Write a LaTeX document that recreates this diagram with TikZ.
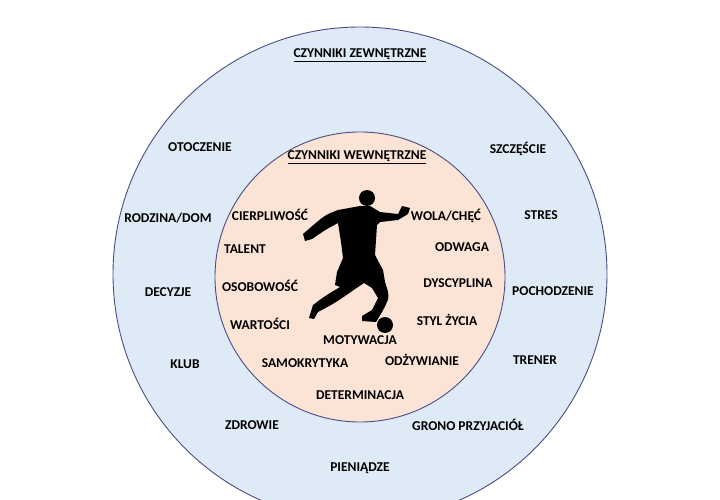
\documentclass[tikz,border=0pt]{standalone}
\usepackage{fontspec}
\setmainfont{Carlito}
\begin{document}
\begin{tikzpicture}[x=1pt,y=-1pt,
  lab/.style={font=\bfseries\fontsize{13.5}{15}\selectfont, inner sep=1pt},
  ring/.style={draw=black!45!blue!40!gray, line width=0.9pt}]
\definecolor{outerc}{HTML}{DEEAF6}
\definecolor{innerc}{HTML}{FBE3D6}
\useasboundingbox (0,0) rectangle (720,500);
\fill[white] (0,0) rectangle (720,500);
\begin{scope}
\clip (0,0) rectangle (720,500);
\node[circle, ring, fill=outerc, minimum size=494pt, inner sep=0] (outer) at (360,274) {};
\end{scope}
\node[circle, ring, fill=innerc, minimum size=290pt, inner sep=0] (inner) at (360,277) {};
% player
\fill[black] (367,198) circle (8);
\fill[black] (338,210) .. controls (325,215) .. (310,228) -- (303,234) -- (305,241) -- (312,239)
  .. controls (325,230) .. (338,223) -- (341,242) -- (343,258) -- (337,272) -- (335,285) -- (340,287)
  .. controls (325,296) .. (313,305) -- (309,318) -- (314,319) -- (318,312)
  .. controls (335,303) .. (358,287) -- (364,283) -- (372,288) -- (378,298) -- (372,310) -- (362,316)
  -- (362,321) -- (376,322) -- (382,312) .. controls (390,297) .. (385,282) -- (383,270) -- (375,255)
  -- (377,225) -- (380,222) -- (398,220) -- (408,214) -- (410,208) -- (402,206) -- (398,214)
  -- (380,212) -- (370,206) -- (360,206) -- cycle;
\fill[black] (385,325) circle (8);
% texts
\node[lab] (ext) at (360,55) {\underline{CZYNNIKI ZEWNĘTRZNE}};
\node[lab] (int) at (357,157) {\underline{CZYNNIKI WEWNĘTRZNE}};
\node[lab] (a1) at (200,147) {OTOCZENIE};
\node[lab] (a2) at (518,149) {SZCZĘŚCIE};
\node[lab] (a3) at (168,218) {RODZINA/DOM};
\node[lab] (a4) at (270,215) {CIERPLIWOŚĆ};
\node[lab] (a5) at (446,216) {WOLA/CHĘĆ};
\node[lab] (a6) at (541,215) {STRES};
\node[lab] (a7) at (245,249) {TALENT};
\node[lab] (a8) at (462,247) {ODWAGA};
\node[lab] (a9) at (168,292) {DECYZJE};
\node[lab] (a10) at (260,286) {OSOBOWOŚĆ};
\node[lab] (a11) at (458,283) {DYSCYPLINA};
\node[lab] (a12) at (553,291) {POCHODZENIE};
\node[lab] (a13) at (260,324) {WARTOŚCI};
\node[lab] (a14) at (447,320) {STYL ŻYCIA};
\node[lab] (a15) at (360,340) {MOTYWACJA};
\node[lab] (a16) at (185,364) {KLUB};
\node[lab] (a17) at (305,363) {SAMOKRYTYKA};
\node[lab] (a18) at (422,360) {ODŻYWIANIE};
\node[lab] (a19) at (535,360) {TRENER};
\node[lab] (a20) at (360,395) {DETERMINACJA};
\node[lab] (a21) at (252,425) {ZDROWIE};
\node[lab] (a22) at (468,425) {GRONO PRZYJACIÓŁ};
\node[lab] (a23) at (360,468) {PIENIĄDZE};
\end{tikzpicture}
\end{document}
